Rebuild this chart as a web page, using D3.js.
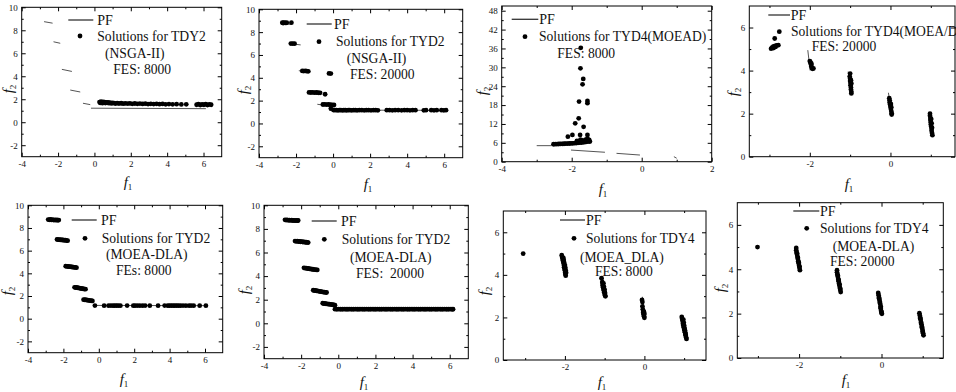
<!DOCTYPE html>
<html>
<head>
<meta charset="utf-8">
<script src="https://cdn.jsdelivr.net/npm/d3@7"></script>
<style>
  body { margin: 0; background: #fff; }
  svg text { font-family: "Liberation Serif", "Times New Roman", serif; fill: #111; }
  .legend text { white-space: pre; }
</style>
</head>
<body>
<svg id="fig" width="956" height="392"></svg>
<script>

// ---- Pareto front pieces (each one is a short line) ----
var pfTdy2Nsga = [
  [[-2.77, 8.75], [-2.30, 8.62]],
  [[-2.25, 7.00], [-1.88, 6.87]],
  [[-1.79, 4.60], [-1.24, 4.42]],
  [[-1.33, 2.80], [-0.78, 2.63]],
  [[-0.63, 1.65], [-0.23, 1.53]],
  [[-0.19, 1.22], [6.13, 1.18]]
];
var pfTyd2 = [
  [[-2.85, 8.78], [-2.25, 8.68]],
  [[-2.35, 7.00], [-1.75, 6.88]],
  [[-1.85, 4.62], [-1.22, 4.50]],
  [[-1.35, 2.76], [-0.72, 2.60]],
  [[-0.85, 1.68], [-0.32, 1.56]],
  [[-0.22, 1.17], [6.12, 1.15]]
];
var pfTyd4Moead = [
  [[-3.00, 5.10], [-2.57, 5.10]],
  [[-2.02, 3.70], [-1.05, 3.00]],
  [[-0.72, 2.66], [-0.05, 2.12]],
  [[0.92, 1.60], [1.00, 1.10]]
];
var pfTyd4 = [
  [[-2.05, 4.95], [-1.99, 4.00]],
  [[-1.05, 3.95], [-0.98, 3.00]],
  [[-0.05, 2.97], [0.02, 2.00]],
  [[0.95, 1.97], [1.03, 1.00]]
];

// ---- obtained solutions, one list per panel ----
var solNsga8000 = [
  [0.28,1.75],[0.32,1.68],[0.36,1.78],[0.40,1.72],[0.44,1.66],[0.48,1.76],[0.52,1.70],[0.56,1.74],
  [0.60,1.67],[0.65,1.73],[0.70,1.69],[0.75,1.72],[0.80,1.66],[0.86,1.70],[0.93,1.64],[1.00,1.68],
  [1.08,1.66],[1.16,1.62],[1.25,1.67],[1.35,1.63],[1.47,1.65],[1.58,1.61],[1.70,1.64],[1.83,1.62],
  [1.95,1.64],[2.08,1.60],[2.22,1.63],[2.36,1.60],[2.50,1.62],[2.65,1.59],[2.80,1.61],[2.95,1.58],
  [3.10,1.60],[3.26,1.58],[3.42,1.60],[3.58,1.57],[3.75,1.59],[3.92,1.56],[4.10,1.58],[4.30,1.56],
  [4.52,1.57],[4.78,1.55],[5.05,1.56],[5.62,1.52],[5.72,1.58],[5.82,1.50],[5.92,1.55],[6.02,1.52],
  [6.12,1.57],[6.22,1.50],[6.32,1.55],[6.42,1.52]
];
var solNsga20000 = [
  [-2.74,8.82],[-2.69,8.80],[-2.64,8.83],[-2.58,8.81],[-2.50,8.82],[-2.25,8.83],
  [-2.28,7.00],[-2.18,7.00],[-2.08,6.99],
  [-1.66,4.60],[-1.58,4.59],[-1.50,4.61],[-1.42,4.58],[-1.34,4.57],
  [-0.22,4.38],[-0.12,4.37],
  [-1.30,2.72],[-1.20,2.71],[-1.10,2.72],[-1.00,2.70],[-0.90,2.71],[-0.80,2.69],[-0.70,2.68],[-0.43,2.56],
  [-0.55,1.66],[-0.45,1.67],[-0.35,1.65],[-0.25,1.66],[-0.15,1.64],[-0.05,1.63],[0.05,1.62],[-0.12,1.30],
  [0.02,1.18],[0.10,1.16],[0.18,1.17],[0.26,1.15],[0.34,1.16],[0.42,1.17],[0.50,1.15],[0.58,1.16],
  [0.66,1.16],[0.74,1.15],[0.82,1.17],[0.90,1.16],[1.00,1.15],[1.10,1.16],[1.20,1.16],[1.30,1.15],
  [1.42,1.16],[1.55,1.16],[1.68,1.15],[1.80,1.16],[1.92,1.16],[2.05,1.15],[2.18,1.16],[2.30,1.16],
  [2.42,1.15],[2.90,1.16],[3.05,1.16],[3.20,1.15],[3.35,1.16],[3.52,1.16],[3.70,1.15],[3.85,1.16],
  [4.00,1.16],[4.15,1.15],[4.30,1.16],[4.45,1.16],[4.90,1.15],[5.02,1.16],[5.30,1.16],[5.45,1.15],
  [5.60,1.16],[5.85,1.16],[5.98,1.15],[6.10,1.16]
];
var solMoead8000 = [
  [-2.52,5.55],[-2.47,5.58],[-2.42,5.60],[-2.37,5.62],[-2.32,5.65],[-2.27,5.66],[-2.22,5.70],[-2.17,5.72],
  [-2.12,5.75],[-2.07,5.78],[-2.02,5.82],[-1.97,5.85],[-1.92,5.90],[-1.87,5.95],[-1.82,6.00],[-1.77,6.05],
  [-1.72,6.10],[-1.67,6.15],[-1.62,6.25],[-1.57,6.35],[-1.52,6.45],[-1.48,6.40],
  [-1.85,6.60],[-1.75,7.00],[-1.70,6.80],[-1.60,7.00],[-1.55,7.30],[-1.65,6.60],[-1.50,6.90],
  [-2.11,7.95],[-1.98,8.50],[-1.76,8.50],[-1.55,8.50],
  [-1.90,12.2],[-1.80,13.8],[-1.66,11.1],
  [-1.79,19.1],[-1.55,19.3],[-1.55,18.6],
  [-1.67,26.3],[-1.69,24.6],[-1.75,29.7],[-1.74,36.2]
];
var solMoead20000 = [
  [-2.87,5.49],[-2.96,5.02],[-2.93,5.08],[-2.90,5.12],[-2.86,5.15],[-2.82,5.17],[-2.78,5.18],[-2.90,5.05],[-2.85,5.10],
  [-2.00,4.44],[-1.98,4.36],[-1.97,4.28],[-1.96,4.20],[-1.95,4.12],[-1.93,4.08],[-1.91,4.10],[-1.99,4.40],[-1.96,4.32],
  [-1.00,3.86],[-1.01,3.72],[-1.00,3.62],[-1.00,3.52],[-0.99,3.42],[-0.99,3.32],[-0.98,3.22],[-0.98,3.12],
  [-0.97,3.02],[-0.97,2.94],[-0.98,3.55],[-0.97,3.40],
  [-0.03,2.72],[-0.02,2.62],[-0.02,2.52],[-0.01,2.42],[0.00,2.32],[0.01,2.22],[0.02,2.12],[0.03,2.02],
  [0.03,1.96],[0.01,2.45],[0.02,2.30],
  [0.98,2.00],[0.98,1.90],[0.99,1.80],[0.99,1.70],[1.00,1.60],[1.00,1.50],[1.01,1.40],[1.02,1.30],
  [1.02,1.20],[1.03,1.10],[1.04,1.00],[1.01,1.75],[1.02,1.55],[1.03,1.35]
];
var solDla8000 = [
  [-2.86,8.74],[-2.80,8.72],[-2.74,8.75],[-2.68,8.71],[-2.62,8.73],[-2.56,8.70],[-2.50,8.72],[-2.44,8.69],
  [-2.38,8.71],[-2.32,8.68],[-2.26,8.70],
  [-2.36,6.99],[-2.30,6.97],[-2.24,6.98],[-2.18,6.95],[-2.12,6.96],[-2.06,6.93],[-2.00,6.94],[-1.94,6.91],
  [-1.88,6.92],[-1.82,6.89],[-1.76,6.88],
  [-1.87,4.63],[-1.81,4.61],[-1.75,4.62],[-1.69,4.59],[-1.63,4.60],[-1.57,4.57],[-1.51,4.56],[-1.45,4.55],
  [-1.39,4.53],[-1.33,4.52],[-1.26,4.50],
  [-1.37,2.77],[-1.31,2.74],[-1.25,2.75],[-1.19,2.72],[-1.13,2.71],[-1.07,2.68],[-1.01,2.68],[-0.95,2.65],
  [-0.89,2.64],[-0.82,2.61],[-0.75,2.60],
  [-0.86,1.68],[-0.80,1.66],[-0.74,1.67],[-0.68,1.64],[-0.62,1.63],[-0.56,1.61],[-0.50,1.60],[-0.43,1.58],[-0.36,1.57],
  [-0.22,1.16],[0.30,1.15],[0.55,1.15],[0.68,1.16],[0.80,1.15],[0.90,1.15],[1.00,1.16],[1.10,1.15],
  [1.22,1.15],[1.60,1.16],[1.95,1.15],[2.05,1.15],[2.18,1.16],[2.32,1.15],[2.48,1.15],[2.62,1.16],
  [2.88,1.15],[3.35,1.15],[3.72,1.16],[3.90,1.15],[4.00,1.15],[4.10,1.16],[4.20,1.15],[4.30,1.15],
  [4.40,1.16],[4.50,1.15],[4.62,1.15],[4.76,1.16],[4.92,1.15],[5.10,1.15],[5.22,1.16],[5.36,1.15],
  [5.70,1.15],[6.05,1.15]
];
var solDla20000 = [
  [-2.87,8.77],[-2.81,8.75],[-2.75,8.76],[-2.69,8.73],[-2.63,8.75],[-2.57,8.72],[-2.51,8.74],[-2.45,8.71],
  [-2.39,8.73],[-2.33,8.70],[-2.27,8.72],[-2.21,8.70],[-2.16,8.71],
  [-2.33,6.97],[-2.27,6.95],[-2.21,6.96],[-2.15,6.93],[-2.09,6.94],[-2.03,6.91],[-1.97,6.92],[-1.91,6.89],
  [-1.85,6.90],[-1.79,6.87],[-1.73,6.87],[-1.67,6.85],[-1.62,6.84],
  [-1.85,4.70],[-1.79,4.67],[-1.73,4.68],[-1.67,4.64],[-1.61,4.65],[-1.55,4.61],[-1.49,4.62],[-1.43,4.58],
  [-1.37,4.58],[-1.31,4.55],[-1.25,4.55],[-1.19,4.53],[-1.13,4.52],
  [-1.35,2.80],[-1.29,2.77],[-1.23,2.78],[-1.17,2.74],[-1.11,2.75],[-1.05,2.71],[-0.99,2.71],[-0.93,2.68],
  [-0.87,2.67],[-0.81,2.65],[-0.75,2.64],[-0.69,2.62],[-0.63,2.61],
  [-0.84,1.70],[-0.78,1.67],[-0.72,1.68],[-0.66,1.65],[-0.60,1.65],[-0.54,1.62],[-0.48,1.62],[-0.42,1.60],
  [-0.36,1.59],[-0.30,1.57],[-0.24,1.56],[-0.18,1.54],
  [-0.18,1.20],[-0.08,1.19],[0.02,1.20],[0.12,1.19],[0.22,1.19],[0.32,1.20],[0.42,1.19],[0.52,1.19],
  [0.62,1.20],[0.72,1.19],[0.82,1.19],[0.92,1.20],[1.02,1.19],[1.12,1.19],[1.22,1.20],[1.32,1.19],
  [1.42,1.19],[1.52,1.20],[1.62,1.19],[1.72,1.19],[1.82,1.20],[1.92,1.19],[2.02,1.19],[2.12,1.20],
  [2.22,1.19],[2.32,1.19],[2.42,1.20],[2.52,1.19],[2.62,1.19],[2.72,1.20],[2.82,1.19],[2.92,1.19],
  [3.02,1.20],[3.12,1.19],[3.22,1.19],[3.32,1.20],[3.42,1.19],[3.52,1.19],[3.62,1.20],[3.72,1.19],
  [3.82,1.19],[3.92,1.20],[4.02,1.19],[4.12,1.19],[4.22,1.20],[4.32,1.19],[4.42,1.19],[4.52,1.20],
  [4.62,1.19],[4.72,1.19],[4.82,1.20],[4.92,1.19],[5.02,1.19],[5.12,1.20],[5.22,1.19],[5.32,1.19],
  [5.42,1.20],[5.52,1.19],[5.62,1.19],[5.72,1.20],[5.82,1.19],[5.92,1.19],[6.02,1.20],[6.12,1.19],[6.18,1.19]
];
var solDla4_8000 = [
  [-3.05,5.00],
  [-2.08,4.92],[-2.07,4.84],[-2.06,4.76],[-2.05,4.68],[-2.04,4.60],[-2.03,4.52],[-2.02,4.44],[-2.02,4.36],
  [-2.01,4.28],[-2.00,4.20],[-1.99,4.12],[-1.99,4.04],[-1.98,3.96],[-2.04,4.80],[-2.03,4.70],[-2.02,4.58],
  [-2.00,4.46],[-1.99,4.34],[-1.98,4.22],[-1.97,4.10],
  [-1.08,3.84],[-1.06,3.66],[-1.05,3.58],[-1.05,3.50],[-1.04,3.42],[-1.03,3.34],[-1.02,3.26],[-1.01,3.18],
  [-1.00,3.10],[-0.99,3.03],[-0.98,2.99],[-1.03,3.60],[-1.02,3.45],[-1.00,3.30],[-0.99,3.15],
  [-0.06,2.82],[-0.05,2.72],[-0.05,2.52],[-0.04,2.38],[-0.03,2.30],[-0.03,2.22],[-0.02,2.14],[-0.01,2.06],
  [0.00,1.98],[-0.01,2.26],[0.00,2.16],
  [0.94,2.02],[0.95,1.94],[0.96,1.86],[0.97,1.78],[0.97,1.70],[0.98,1.62],[0.99,1.54],[1.00,1.46],
  [1.01,1.38],[1.02,1.30],[1.03,1.22],[1.04,1.14],[1.05,1.06],[1.06,0.99],[0.98,1.90],[0.99,1.76],
  [1.00,1.62],[1.01,1.50],[1.02,1.40],[1.03,1.28],[1.04,1.18]
];
var solDla4_20000 = [
  [-3.01,5.00],
  [-2.07,4.96],[-2.07,4.86],[-2.06,4.76],[-2.05,4.66],[-2.04,4.56],[-2.03,4.46],[-2.02,4.36],[-2.01,4.26],
  [-2.00,4.16],[-1.99,4.06],[-1.98,3.96],[-2.05,4.72],[-2.03,4.52],[-2.01,4.32],[-1.99,4.12],
  [-1.08,3.96],[-1.08,3.86],[-1.07,3.76],[-1.06,3.66],[-1.05,3.56],[-1.04,3.46],[-1.03,3.36],[-1.02,3.26],
  [-1.01,3.16],[-1.00,3.06],[-0.99,2.97],[-1.06,3.72],[-1.04,3.52],[-1.02,3.32],[-1.00,3.12],
  [-0.08,2.93],[-0.07,2.83],[-0.06,2.73],[-0.05,2.63],[-0.04,2.53],[-0.03,2.43],[-0.02,2.33],[-0.02,2.23],
  [-0.01,2.13],[0.00,2.03],[0.01,1.99],[-0.06,2.68],[-0.04,2.48],[-0.02,2.28],[0.00,2.08],
  [0.92,2.02],[0.93,1.92],[0.94,1.82],[0.95,1.72],[0.96,1.62],[0.97,1.52],[0.98,1.42],[0.99,1.32],
  [1.00,1.22],[1.01,1.12],[1.02,1.02],[0.94,1.78],[0.96,1.58],[0.98,1.38],[1.00,1.18]
];

// ---- legend texts ----
var legendNsga8000   = ["Solutions for TDY2", "(NSGA-II)", "FES: 8000"];
var legendNsga20000  = ["Solutions for TYD2", "(NSGA-II)", "FES: 20000"];
var legendMoead8000  = ["Solutions for TYD4(MOEAD)", "FES: 8000"];
var legendMoead20000 = ["Solutions for TYD4(MOEA/D)", "FES: 20000"];
var legendDla8000    = ["Solutions for TYD2", "(MOEA-DLA)", "FEs: 8000"];
var legendDla20000   = ["Solutions for TYD2", "(MOEA-DLA)", "FES:  20000"];
var legendDla4_8000  = ["Solutions for TDY4", "(MOEA_DLA)", "FES: 8000"];
var legendDla4_20000 = ["Solutions for TDY4", "(MOEA-DLA)", "FES: 20000"];

// ---- tick values ----
var ticksTyd2X = [-4, -2, 0, 2, 4, 6];
var minorTyd2X = [-3, -1, 1, 3, 5];
var ticksTyd2Y = [-2, 0, 2, 4, 6, 8, 10];
var minorTyd2Y = [-1, 1, 3, 5, 7, 9];
var ticksMoeadX = [-4, -2, 0, 2];
var minorMoeadX = [-3, -1, 1];
var ticksMoeadY = [0, 6, 12, 18, 24, 30, 36, 42, 48];
var minorMoeadY = [3, 9, 15, 21, 27, 33, 39, 45];
var ticksTyd4X = [-2, 0];
var minorTyd4X = [-3, -1, 1];
var ticksTyd4Y = [0, 2, 4, 6];
var minorTyd4Y = [1, 3, 5];

// layout of the eight panels (pixel frames, domains, legend and label spots)
var panels = [
  { l: 21.7, r: 221.7, t: 7.3, b: 156.7, xd: [-4, 7], yd: [-3, 10],
    xt: ticksTyd2X, xm: minorTyd2X, yt: ticksTyd2Y, ym: minorTyd2Y,
    pf: pfTdy2Nsga, pts: solNsga8000, legend: legendNsga8000,
    leg: { lx: [68.3, 93.3], ly: 20, pfx: 97.3, mx: 80, my: 36,
           tx: [[97.3, 36], [105, 53.3], [113.3, 69.3]] },
    f1: [128, 183], f2: [13, 89] },
  { l: 259, r: 462.7, t: 9.3, b: 157.7, xd: [-4, 7], yd: [-3, 10],
    xt: ticksTyd2X, xm: minorTyd2X, yt: ticksTyd2Y, ym: minorTyd2Y,
    pf: pfTyd2, pts: solNsga20000, legend: legendNsga20000,
    leg: { lx: [306.7, 331.7], ly: 24, pfx: 334, mx: 319, my: 41.7,
           tx: [[336, 41.7], [346.7, 58.3], [350, 74]] },
    f1: [368, 185], f2: [248, 90] },
  { l: 501.7, r: 711.7, t: 6, b: 161.7, xd: [-4, 2], yd: [0, 49.5],
    xt: ticksMoeadX, xm: minorMoeadX, yt: ticksMoeadY, ym: minorMoeadY,
    pf: pfTyd4Moead, pts: solMoead8000, legend: legendMoead8000,
    leg: { lx: [511.7, 538.3], ly: 19.3, pfx: 539.3, mx: 525, my: 36.7,
           tx: [[539, 36.7], [557.3, 53.3]] },
    f1: [603, 190], f2: [487, 91] },
  { l: 749.3, r: 955, t: 6, b: 156.7, xd: [-3.5, 1.6], yd: [0, 7],
    xt: ticksTyd4X, xm: minorTyd4X, yt: ticksTyd4Y, ym: minorTyd4Y,
    pf: pfTyd4, pts: solMoead20000, legend: legendMoead20000,
    leg: { lx: [768.3, 790], ly: 15, pfx: 790.7, mx: 779.3, my: 31.7,
           tx: [[791, 31.7], [811.7, 46.7]] },
    f1: [849, 185], f2: [738, 92] },
  { l: 28, r: 222.7, t: 205.3, b: 352.7, xd: [-4, 7], yd: [-3, 10],
    xt: ticksTyd2X, xm: minorTyd2X, yt: ticksTyd2Y, ym: minorTyd2Y,
    pf: pfTyd2, pts: solDla8000, legend: legendDla8000,
    leg: { lx: [71.7, 96.7], ly: 220, pfx: 101, mx: 85, my: 238.3,
           tx: [[101.7, 238.3], [106, 254.3], [116, 270]] },
    f1: [124, 380], f2: [12, 291] },
  { l: 264, r: 468.3, t: 205.3, b: 358.7, xd: [-4, 7], yd: [-3, 10],
    xt: ticksTyd2X, xm: minorTyd2X, yt: ticksTyd2Y, ym: minorTyd2Y,
    pf: pfTyd2, pts: solDla20000, legend: legendDla20000,
    leg: { lx: [311.7, 336.7], ly: 221, pfx: 341, mx: 324.3, my: 239.3,
           tx: [[341.7, 239.3], [350, 257.7], [356, 273.3]] },
    f1: [364, 383], f2: [249, 290] },
  { l: 503.3, r: 706, t: 211, b: 360, xd: [-3.55, 1.55], yd: [0, 7],
    xt: ticksTyd4X, xm: minorTyd4X, yt: ticksTyd4Y, ym: minorTyd4Y,
    pf: pfTyd4, pts: solDla4_8000, legend: legendDla4_8000,
    leg: { lx: [560, 585], ly: 220, pfx: 586, mx: 574, my: 238.3,
           tx: [[586, 238.3], [580, 257.7], [595, 271]] },
    f1: [602, 383], f2: [489, 291] },
  { l: 737.3, r: 943.3, t: 202.7, b: 358, xd: [-3.5, 1.5], yd: [0, 7],
    xt: ticksTyd4X, xm: minorTyd4X, yt: ticksTyd4Y, ym: minorTyd4Y,
    pf: pfTyd4, pts: solDla4_20000, legend: legendDla4_20000,
    leg: { lx: [793.3, 819.3], ly: 211, pfx: 820, mx: 806.7, my: 228.3,
           tx: [[820, 228.3], [832.7, 246.7], [830, 261.7]] },
    f1: [846, 381], f2: [725, 288] }
];

var svg = d3.select("#fig");
var fmt = function(d) { return String(d); };   // keep plain hyphen minus

panels.forEach(function(p, i) {
  var g = svg.append("g");

  var x = d3.scaleLinear().domain(p.xd).range([p.l, p.r]);
  var y = d3.scaleLinear().domain(p.yd).range([p.b, p.t]);

  // clip to the frame
  g.append("clipPath").attr("id", "clip" + i)
    .append("rect").attr("x", p.l).attr("y", p.t)
    .attr("width", p.r - p.l).attr("height", p.b - p.t);

  var plot = g.append("g").attr("clip-path", "url(#clip" + i + ")");

  // PF pieces
  var line = d3.line().x(d => x(d[0])).y(d => y(d[1]));
  plot.selectAll("path.pf")
    .data(p.pf)
    .enter().append("path")
    .attr("class", "pf")
    .attr("d", line)
    .attr("fill", "none")
    .attr("stroke", "#555")
    .attr("stroke-width", 1);

  // solutions
  plot.selectAll("circle")
    .data(p.pts)
    .enter().append("circle")
    .attr("cx", d => x(d[0]))
    .attr("cy", d => y(d[1]))
    .attr("r", 2.4)
    .attr("fill", "#000");

  // axes: major + minor ticks inside on all four sides
  function axis(gen, scale, vals, size, labels, tr) {
    var a = gen(scale).tickValues(vals).tickSizeInner(-size).tickSizeOuter(0).tickPadding(4);
    a.tickFormat(labels ? fmt : "");
    var ag = g.append("g").attr("transform", tr).call(a);
    ag.select(".domain").remove();
    ag.selectAll("line").attr("stroke", "#000");
    ag.selectAll("text").attr("font-size", 9).attr("font-family", "Liberation Serif").attr("fill", "#111");
  }
  axis(d3.axisBottom, x, p.xt, 4, true, "translate(0," + p.b + ")");
  axis(d3.axisBottom, x, p.xm, 2, false, "translate(0," + p.b + ")");
  axis(d3.axisTop, x, p.xt, 4, false, "translate(0," + p.t + ")");
  axis(d3.axisTop, x, p.xm, 2, false, "translate(0," + p.t + ")");
  axis(d3.axisLeft, y, p.yt, 4, true, "translate(" + p.l + ",0)");
  axis(d3.axisLeft, y, p.ym, 2, false, "translate(" + p.l + ",0)");
  axis(d3.axisRight, y, p.yt, 4, false, "translate(" + p.r + ",0)");
  axis(d3.axisRight, y, p.ym, 2, false, "translate(" + p.r + ",0)");

  // frame
  g.append("rect")
    .attr("x", p.l).attr("y", p.t)
    .attr("width", p.r - p.l).attr("height", p.b - p.t)
    .attr("fill", "none").attr("stroke", "#000").attr("stroke-width", 1);

  // legend
  var lg = g.append("g").attr("class", "legend");
  lg.append("line")
    .attr("x1", p.leg.lx[0]).attr("x2", p.leg.lx[1])
    .attr("y1", p.leg.ly).attr("y2", p.leg.ly)
    .attr("stroke", "#333").attr("stroke-width", 1.3);
  lg.append("text")
    .attr("x", p.leg.pfx).attr("y", p.leg.ly).attr("dy", "0.35em")
    .attr("font-size", 14).text("PF");
  lg.append("circle")
    .attr("cx", p.leg.mx).attr("cy", p.leg.my).attr("r", 2.4).attr("fill", "#000");
  lg.selectAll("text.row")
    .data(p.legend)
    .enter().append("text")
    .attr("class", "row")
    .attr("x", (d, k) => p.leg.tx[k][0])
    .attr("y", (d, k) => p.leg.tx[k][1])
    .attr("dy", "0.35em")
    .attr("font-size", 13.6)
    .text(d => d);

  // axis titles f1 / f2
  var t1 = g.append("text")
    .attr("x", p.f1[0]).attr("y", p.f1[1] + 4)
    .attr("text-anchor", "middle").attr("font-size", 15);
  t1.append("tspan").attr("font-style", "italic").text("f");
  t1.append("tspan").attr("font-size", 9).attr("dy", 3).text("1");

  var t2 = g.append("text")
    .attr("transform", "translate(" + p.f2[0] + "," + p.f2[1] + ") rotate(-90)")
    .attr("text-anchor", "middle").attr("font-size", 15);
  t2.append("tspan").attr("font-style", "italic").text("f");
  t2.append("tspan").attr("font-size", 9).attr("dy", 3).text("2");
});

</script>
</body>
</html>
